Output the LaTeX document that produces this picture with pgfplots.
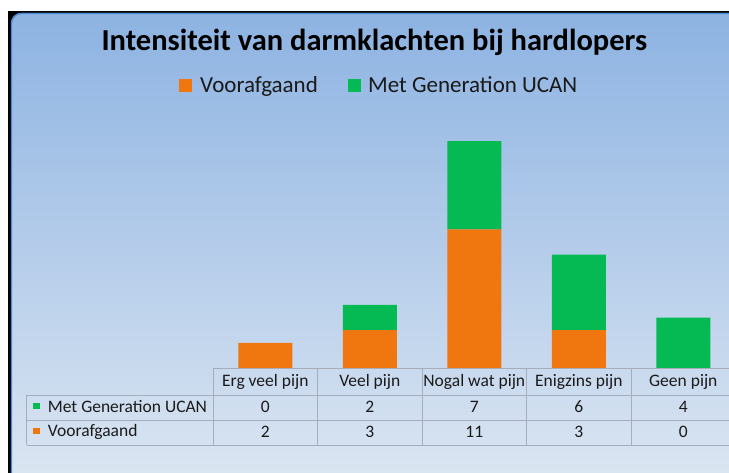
\documentclass[border=0pt]{standalone}
\usepackage{pgfplots}
\pgfplotsset{compat=1.18}
\usepackage{fontspec}
\setmainfont{Carlito}
\definecolor{bgtop}{HTML}{8DB3E2}
\definecolor{bgbot}{HTML}{DCE6F2}
\definecolor{voor}{HTML}{F0760F}
\definecolor{ucan}{HTML}{05B953}
\definecolor{grid}{HTML}{A6AEBB}
\definecolor{frame}{HTML}{4A8AD6}
\definecolor{txt}{HTML}{1A1A1A}
\begin{document}
\begin{tikzpicture}
\begin{scope}[x=1pt,y=1pt]
\useasboundingbox (0,0) rectangle (729,473);
\fill[white] (0,0) rectangle (729,473);
\fill[black] (8,-5) rectangle (740,462);
\shade[top color=bgtop,bottom color=bgbot,rounded corners=10pt] (11,-10) rectangle (745,460);
\draw[frame,line width=1.2pt,rounded corners=10pt] (11.5,-10) -- (11.5,459.5) -- (745,459.5);
\node[anchor=base,inner sep=0pt,font=\fontsize{30.5}{34}\selectfont\bfseries] at (374.3,422.3) {Intensiteit van darmklachten bij hardlopers};
% legend
\begin{scope}[font=\fontsize{23}{26}\selectfont]
\fill[voor] (179,381) rectangle (192,394);
\node[anchor=base west,inner sep=0pt,text=txt] at (200,380.3) {Voorafgaand};
\fill[ucan] (348,381) rectangle (361,394);
\node[anchor=base west,inner sep=0pt,text=txt] at (368,380.3) {Met Generation UCAN};
\end{scope}
% table grid
\draw[grid,line width=0.6pt] (213,105) -- (736,105);
\foreach \y in {78,52.5,27.5} \draw[grid,line width=0.6pt] (26.7,\y) -- (736,\y);
\draw[grid,line width=0.6pt] (26.7,78) -- (26.7,27.5);
\foreach \x in {213,317.5,422,526.5,631} \draw[grid,line width=0.6pt] (\x,105) -- (\x,27.5);
\end{scope}
\begin{axis}[
  at={(213pt,105pt)}, anchor=south west,
  scale only axis, width=522.5pt, height=252pt,
  xmin=-0.5, xmax=4.5, ymin=0, ymax=20,
  hide axis, clip=false,
  ybar stacked, bar width=54pt,
]
\addplot[fill=voor, draw=none] coordinates {(0,2) (1,3) (2,11) (3,3) (4,0)};
\addplot[fill=ucan, draw=none] coordinates {(0,0) (1,2) (2,7) (3,6) (4,4)};
\end{axis}
\begin{scope}[x=1pt,y=1pt,font=\fontsize{17.5}{20}\selectfont,every node/.style={inner sep=0pt,anchor=base,text=txt}]
\foreach \x/\t in {265.3/Erg veel pijn,369.8/Veel pijn,474.3/Nogal wat pijn,578.8/Enigzins pijn,683.3/Geen pijn}
  \node at (\x,86.3) {\t};
\foreach \x/\a/\b in {265.3/0/2,369.8/2/3,474.3/7/11,578.8/6/3,683.3/4/0}{
  \node at (\x,60.5) {\a};
  \node at (\x,35) {\b};
}
\fill[ucan] (32.7,63.5) rectangle (39.5,70.3);
\node[anchor=base west] at (47.7,60.7) {Met Generation UCAN};
\fill[voor] (32.7,38.5) rectangle (39.5,45.3);
\node[anchor=base west] at (47.7,36) {Voorafgaand};
\end{scope}
\end{tikzpicture}
\end{document}
